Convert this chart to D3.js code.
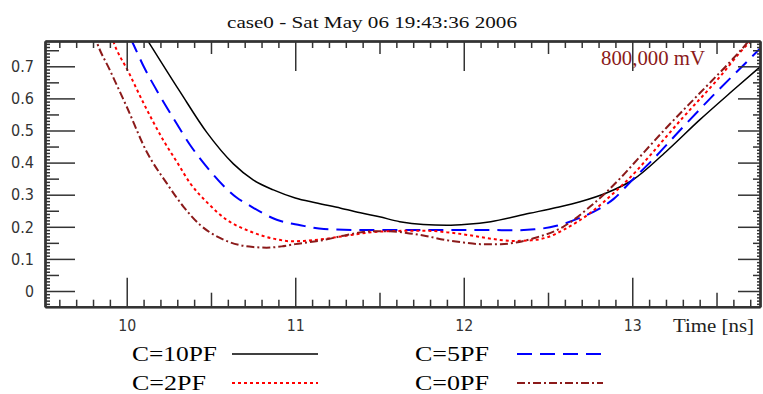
<!DOCTYPE html>
<html><head><meta charset="utf-8">
<script src="https://cdn.jsdelivr.net/npm/d3@7"></script>
<style>body{margin:0;background:#fff;}svg{display:block;}</style>
</head><body>
<svg id="c" width="763" height="394"></svg>
<script>
const title = "case0 - Sat May 06 19:43:36 2006";
const xLabel = "Time [ns]";
const annotation = "800,000 mV";
const seriesNames = ["C=10PF", "C=5PF", "C=2PF", "C=0PF"];
const seriesColors = ["#000000", "#0000ff", "#ff0000", "#8b1a1a"];
const seriesDash = ["none", "15,8", "3,3", "8,3,2,3"];
const xMajorTicks = [10, 11, 12, 13];
const yMajorTicks = [0, 0.1, 0.2, 0.3, 0.4, 0.5, 0.6, 0.7];

const c10 = [[10.04,0.85],[10.128,0.777],[10.316,0.621],[10.475,0.494],[10.633,0.396],[10.75,0.346],[10.87,0.315],[11.0,0.29],[11.12,0.275],[11.27,0.258],[11.40,0.242],[11.50,0.231],[11.62,0.216],[11.76,0.207],[11.9,0.205],[12.02,0.208],[12.16,0.216],[12.39,0.242],[12.55,0.26],[12.69,0.278],[12.85,0.306],[13.0,0.345],[13.2,0.434],[13.4,0.533],[13.6,0.626],[13.76,0.699]];
const c5 = [[9.96,0.85],[10.03,0.779],[10.10,0.70],[10.188,0.616],[10.277,0.538],[10.376,0.455],[10.465,0.393],[10.593,0.318],[10.65,0.292],[10.73,0.266],[10.89,0.222],[11.03,0.205],[11.17,0.193],[11.4,0.19],[11.57,0.19],[11.86,0.19],[12.16,0.19],[12.29,0.189],[12.42,0.192],[12.55,0.203],[12.69,0.228],[12.80,0.255],[12.89,0.287],[13.0,0.346],[13.11,0.403],[13.30,0.51],[13.50,0.62],[13.68,0.714],[13.76,0.756]];
const c2 = [[9.88,0.85],[9.92,0.779],[10.01,0.683],[10.10,0.585],[10.217,0.470],[10.30,0.40],[10.376,0.336],[10.475,0.277],[10.593,0.222],[10.73,0.186],[10.89,0.161],[10.97,0.155],[11.05,0.156],[11.17,0.162],[11.30,0.172],[11.45,0.183],[11.6,0.187],[11.76,0.188],[11.90,0.183],[12.03,0.174],[12.16,0.163],[12.29,0.156],[12.40,0.158],[12.50,0.168],[12.59,0.19],[12.75,0.243],[12.90,0.31],[13.03,0.377],[13.11,0.425],[13.30,0.54],[13.50,0.655],[13.68,0.766],[13.75,0.80]];
const c0 = [[9.78,0.85],[9.82,0.779],[9.90,0.688],[10.0,0.574],[10.12,0.432],[10.237,0.336],[10.336,0.263],[10.435,0.206],[10.55,0.166],[10.67,0.143],[10.75,0.137],[10.83,0.135],[10.92,0.139],[11.0,0.146],[11.17,0.159],[11.30,0.174],[11.45,0.186],[11.56,0.186],[11.66,0.181],[11.76,0.173],[11.90,0.158],[12.00,0.151],[12.10,0.146],[12.22,0.146],[12.32,0.152],[12.42,0.165],[12.59,0.2],[12.75,0.263],[12.93,0.352],[13.005,0.395],[13.2,0.507],[13.4,0.616],[13.6,0.725],[13.68,0.772],[13.72,0.80]];
const seriesValues = [c10, c5, c2, c0];

const svg = d3.select("#c");
const L = 45, R = 760, T = 41, B = 306.7;
const x = d3.scaleLinear().domain([9.515, 13.758]).range([L, R]);
const y = d3.scaleLinear().domain([-0.0489, 0.7788]).range([B, T]);

const axisColor = "#333";
function styleAxis(g) {
  g.select(".domain").attr("stroke", axisColor).attr("stroke-width", 2);
  g.selectAll(".tick line").attr("stroke", axisColor).attr("stroke-width", 1.5);
  return g;
}
const isMult = (v, k) => Math.abs(v * k - Math.round(v * k)) < 1e-6;
const xMinor = d3.range(96, 138).map(v => v / 10).filter(v => !isMult(v, 2));
const xHalf = [10.5, 11.5, 12.5, 13.5];
const yMinor = d3.range(-4, 78).map(v => v / 100).filter(v => !isMult(v, 20));
const yHalf = [0.05, 0.15, 0.25, 0.35, 0.45, 0.55, 0.65, 0.75];

// curves (clipped)
svg.append("clipPath").attr("id", "clip").append("rect")
  .attr("x", L).attr("y", T).attr("width", R - L).attr("height", B - T);
const line = d3.line().x(d => x(d[0])).y(d => y(d[1])).curve(d3.curveMonotoneX);
const gl = svg.append("g").attr("clip-path", "url(#clip)");
seriesValues.forEach((s, i) => {
  gl.append("path").attr("d", line(s)).attr("fill", "none")
    .attr("stroke", seriesColors[i]).attr("stroke-width", i === 0 ? 1.5 : 2)
    .attr("stroke-dasharray", seriesDash[i]);
});

// bottom axis
function drawBottom(vals, size, labels) {
  return styleAxis(svg.append("g").attr("transform", `translate(0,${B})`)
    .call(d3.axisBottom(x).tickValues(vals).tickSize(-size).tickSizeOuter(0).tickPadding(13)
      .tickFormat(labels ? d3.format("d") : "")));
}
drawBottom(xMinor, 7, false); drawBottom(xHalf, 14, false);
const gb = drawBottom(xMajorTicks, 29, true);
gb.selectAll("text").attr("font-family", "DejaVu Sans").attr("font-size", 16.5).attr("fill", "#333")
  .attr("textLength", 18).attr("lengthAdjust", "spacingAndGlyphs");
// top axis
function drawTop(vals, size) {
  return styleAxis(svg.append("g").attr("transform", `translate(0,${T})`)
    .call(d3.axisTop(x).tickValues(vals).tickSize(-size).tickSizeOuter(0).tickFormat("")));
}
drawTop(xMinor, 7); drawTop(xHalf, 13); drawTop(xMajorTicks, 30);
// left axis
function drawLeft(vals, size, labels) {
  return styleAxis(svg.append("g").attr("transform", `translate(${L},0)`)
    .call(d3.axisLeft(y).tickValues(vals).tickSize(-size).tickSizeOuter(0).tickPadding(11)
      .tickFormat(labels ? (d => d === 0 ? "0" : d3.format(".1f")(d)) : "")));
}
drawLeft(yMinor, 5, false); drawLeft(yHalf, 14, false);
const gy = drawLeft(yMajorTicks, 30, true);
gy.selectAll("text").attr("font-family", "DejaVu Sans").attr("font-size", 16.5).attr("fill", "#333")
  .attr("textLength", d => d === 0 ? 9 : 23).attr("lengthAdjust", "spacingAndGlyphs");
// right axis
function drawRight(vals, size) {
  return styleAxis(svg.append("g").attr("transform", `translate(${R},0)`)
    .call(d3.axisRight(y).tickValues(vals).tickSize(-size).tickSizeOuter(0).tickFormat("")));
}
drawRight(yMinor, 3); drawRight(yHalf, 7); drawRight(yMajorTicks, 22);

// texts
svg.append("text").attr("x", 227).attr("y", 28).text(title)
  .attr("font-family", "Liberation Serif").attr("font-size", 17).attr("fill", "#111")
  .attr("textLength", 290).attr("lengthAdjust", "spacingAndGlyphs");
svg.append("text").attr("x", 601).attr("y", 65).text(annotation)
  .attr("font-family", "Liberation Serif").attr("font-size", 20).attr("fill", "#8b1a1a")
  .attr("textLength", 104).attr("lengthAdjust", "spacingAndGlyphs");
svg.append("text").attr("x", 673).attr("y", 332).text(xLabel)
  .attr("font-family", "Liberation Serif").attr("font-size", 19).attr("fill", "#222")
  .attr("textLength", 81).attr("lengthAdjust", "spacingAndGlyphs");

// legend
const legX = [132, 415], legY = [354, 383], lineX = [232, 517];
seriesNames.forEach((n, i) => {
  const col = i % 2, row = Math.floor(i / 2);
  svg.append("text").attr("x", legX[col]).attr("y", legY[row] + 7).text(n)
    .attr("font-family", "Liberation Serif").attr("font-size", 21).attr("fill", "#000")
    .attr("textLength", n.length === 6 ? 85 : 74).attr("lengthAdjust", "spacingAndGlyphs");
  svg.append("line").attr("x1", lineX[col]).attr("x2", lineX[col] + 86)
    .attr("y1", legY[row]).attr("y2", legY[row])
    .attr("stroke", seriesColors[i]).attr("stroke-width", i === 0 ? 1.5 : 2)
    .attr("stroke-dasharray", seriesDash[i]);
});
</script>
</body></html>
